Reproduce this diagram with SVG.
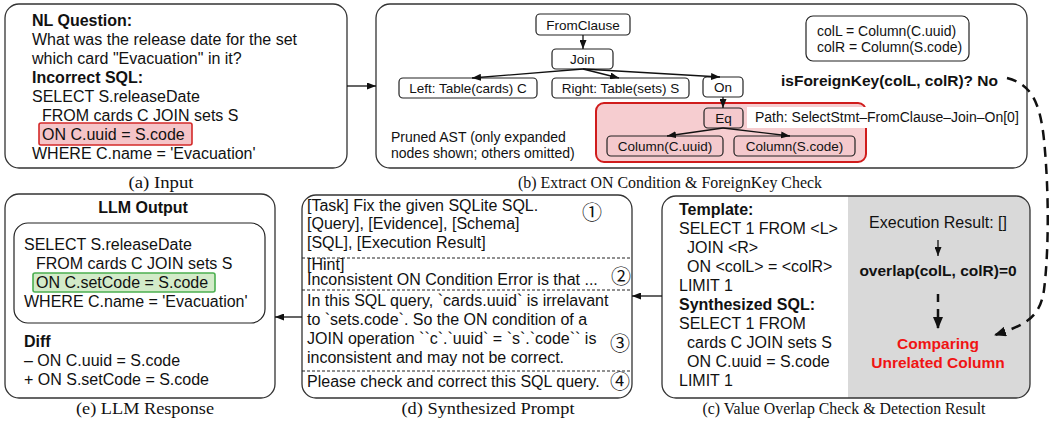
<svg xmlns="http://www.w3.org/2000/svg" width="1052" height="429" viewBox="0 0 1052 429">
<defs>
<style>
text{font-family:"Liberation Sans",Arial,Helvetica,sans-serif;fill:#111}
.t16{font-size:16px}
.t14{font-size:14px}
.t13{font-size:13.5px}
.b{font-weight:bold}
.cap{font-family:"Liberation Serif","Times New Roman",serif;font-size:17px}
.panel{fill:#fff;stroke:#333;stroke-width:1.3}
.node{fill:#fff;stroke:#222;stroke-width:1.2}
.pnode{fill:#f4c9cd;stroke:#222;stroke-width:1.2}
.line{fill:none;stroke:#111;stroke-width:1.3}
.sep{stroke:#222;stroke-width:1;stroke-dasharray:3,2}
.mid{text-anchor:middle}
.circ{font-family:"Noto Sans CJK JP","DejaVu Sans",sans-serif;font-size:20px}
</style>
<marker id="ah" markerUnits="userSpaceOnUse" markerWidth="9" markerHeight="7" refX="9" refY="3.5" orient="auto"><path d="M0,0 L9,3.5 L0,7 z" fill="#111"/></marker>
<marker id="ahb" markerUnits="userSpaceOnUse" markerWidth="12" markerHeight="10" refX="11" refY="5" orient="auto"><path d="M0,0 L12,5 L0,10 z" fill="#111"/></marker>
<clipPath id="cclip"><rect x="662" y="196" width="368" height="202" rx="14"/></clipPath>
</defs>
<rect width="1052" height="429" fill="#fff"/>

<g id="panel-a">
<rect class="panel" x="5" y="4" width="342" height="164" rx="14"/>
<rect x="39" y="123" width="153" height="22" rx="2" fill="#f5c4c8" stroke="#d42a2a" stroke-width="1.6"/>
<text class="t16 b" x="32" y="26">NL Question:</text>
<text class="t16" x="32" y="45">What was the release date for the set</text>
<text class="t16" x="32" y="64">which card "Evacuation" in it?</text>
<text class="t16 b" x="32" y="83">Incorrect SQL:</text>
<text class="t16" x="32" y="102">SELECT S.releaseDate</text>
<text class="t16" x="42" y="121">FROM cards C JOIN sets S</text>
<text class="t16" x="42" y="140">ON C.uuid = S.code</text>
<text class="t16" x="32" y="159">WHERE C.name = 'Evacuation'</text>
<text class="cap mid" x="161" y="188" textLength="65" lengthAdjust="spacingAndGlyphs">(a) Input</text>
</g>

<g id="panel-b">
<rect class="panel" x="376" y="4" width="651" height="164" rx="14"/>
<rect x="596" y="103" width="270" height="59" rx="8" fill="#f6cdd0" stroke="#d01c1c" stroke-width="2"/>
<rect x="747" y="107" width="275" height="21" fill="#fff"/>
<text class="t14" x="755" y="122">Path: SelectStmt–FromClause–Join–On[0]</text>
<text class="t14" x="391" y="142">Pruned AST (only expanded</text>
<text class="t14" x="391" y="158">nodes shown; others omitted)</text>
<g id="n-from"><rect class="node" x="536" y="14" width="94" height="21" rx="4"/><text class="t13 mid" x="583" y="29.5">FromClause</text></g>
<g id="n-join"><rect class="node" x="552" y="49" width="61" height="20" rx="4"/><text class="t13 mid" x="582.5" y="64">Join</text></g>
<g id="n-left"><rect class="node" x="399" y="78" width="138" height="20" rx="4"/><text class="t13 mid" x="468" y="93">Left: Table(cards) C</text></g>
<g id="n-right"><rect class="node" x="552" y="78" width="137" height="20" rx="4"/><text class="t13 mid" x="620.5" y="93">Right: Table(sets) S</text></g>
<g id="n-on"><rect class="node" x="703" y="77" width="40" height="20" rx="4"/><text class="t13 mid" x="723" y="92">On</text></g>
<g id="n-eq"><rect class="pnode" x="704" y="108" width="39" height="20" rx="4"/><text class="t13 mid" x="723.5" y="123">Eq</text></g>
<g id="n-colc"><rect class="pnode" x="607" y="136" width="116" height="20" rx="4"/><text class="t13 mid" x="665" y="151">Column(C.uuid)</text></g>
<g id="n-cols"><rect class="pnode" x="734" y="136" width="121" height="20" rx="4"/><text class="t13 mid" x="794.5" y="151">Column(S.code)</text></g>
<g id="n-cols-box"><rect class="node" x="806" y="16" width="163" height="45" rx="7"/>
<text class="t14" x="817" y="36">colL = Column(C.uuid)</text>
<text class="t14" x="817" y="52">colR = Column(S.code)</text></g>
<text x="781" y="86" style="font-size:15.5px;font-weight:bold">isForeignKey(colL, colR)? No</text>
<text class="cap mid" x="670" y="188" textLength="304" lengthAdjust="spacingAndGlyphs">(b) Extract ON Condition &amp; ForeignKey Check</text>
</g>

<g id="panel-e">
<rect class="panel" x="5" y="194" width="270" height="204" rx="14"/>
<text class="t16 b mid" x="143" y="213">LLM Output</text>
<rect class="node" x="14" y="223" width="251" height="100" rx="14"/>
<rect x="33" y="273" width="182" height="19" rx="2" fill="#d3ebc9" stroke="#4cb050" stroke-width="1.6"/>
<text class="t16" x="24" y="250">SELECT S.releaseDate</text>
<text class="t16" x="36" y="269">FROM cards C JOIN sets S</text>
<text class="t16" x="36" y="288">ON C.setCode = S.code</text>
<text class="t16" x="24" y="307">WHERE C.name = 'Evacuation'</text>
<text class="t16 b" x="24" y="347">Diff</text>
<text class="t16" x="24" y="366">– ON C.uuid = S.code</text>
<text class="t16" x="24" y="385">+ ON S.setCode = S.code</text>
<text class="cap mid" x="145" y="414" textLength="138" lengthAdjust="spacingAndGlyphs">(e) LLM Response</text>
</g>

<g id="panel-d">
<rect class="panel" x="302" y="195" width="330" height="203" rx="14"/>
<text class="t16" x="307" y="211">[Task] Fix the given SQLite SQL.</text>
<text class="t16" x="307" y="229">[Query], [Evidence], [Schema]</text>
<text class="t16" x="307" y="248">[SQL], [Execution Result]</text>
<line class="sep" x1="302" y1="258" x2="632" y2="258"/>
<text class="t16" x="307" y="270">[Hint]</text>
<text class="t16" x="307" y="285">Inconsistent ON Condition Error is that ...</text>
<line class="sep" x1="302" y1="290" x2="632" y2="290"/>
<text class="t16" x="307" y="306">In this SQL query, `cards.uuid` is irrelavant</text>
<text class="t16" x="307" y="325">to `sets.code`. So the ON condition of a</text>
<text class="t16" x="307" y="344">JOIN operation ``c`.`uuid` = `s`.`code`` is</text>
<text class="t16" x="307" y="363">inconsistent and may not be correct.</text>
<line class="sep" x1="302" y1="371" x2="632" y2="371"/>
<text class="t16" x="307" y="387">Please check and correct this SQL query.</text>
<text class="circ mid" x="592" y="220">①</text>
<text class="circ mid" x="621" y="284">②</text>
<text class="circ mid" x="620" y="351">③</text>
<text class="circ mid" x="620" y="389">④</text>
<text class="cap mid" x="488" y="414" textLength="173" lengthAdjust="spacingAndGlyphs">(d) Synthesized Prompt</text>
</g>

<g id="panel-c">
<rect x="848" y="196" width="182" height="202" fill="#d9d9d9" clip-path="url(#cclip)"/>
<rect x="662" y="196" width="368" height="202" rx="14" fill="none" stroke="#333" stroke-width="1.3"/>
<text class="t16 b" x="679" y="215">Template:</text>
<text class="t16" x="679" y="234">SELECT 1 FROM &lt;L&gt;</text>
<text class="t16" x="687" y="253">JOIN &lt;R&gt;</text>
<text class="t16" x="687" y="272">ON &lt;colL&gt; = &lt;colR&gt;</text>
<text class="t16" x="679" y="291">LIMIT 1</text>
<text class="t16 b" x="679" y="310">Synthesized SQL:</text>
<text class="t16" x="679" y="329">SELECT 1 FROM</text>
<text class="t16" x="687" y="348">cards C JOIN sets S</text>
<text class="t16" x="687" y="367">ON C.uuid = S.code</text>
<text class="t16" x="679" y="386">LIMIT 1</text>
<text class="t16 mid" x="938" y="228">Execution Result: []</text>
<text class="mid" x="938" y="276" style="font-size:15.5px;font-weight:bold">overlap(colL, colR)=0</text>
<text class="mid" x="938" y="349" style="font-size:15.5px;font-weight:bold;fill:#f01414">Comparing</text>
<text class="mid" x="938" y="368" style="font-size:15.5px;font-weight:bold;fill:#f01414">Unrelated Column</text>
<text class="cap mid" x="844" y="414" textLength="283" lengthAdjust="spacingAndGlyphs">(c) Value Overlap Check &amp; Detection Result</text>
</g>

<g id="connectors">
<line class="line" x1="347" y1="86" x2="376" y2="86" marker-end="url(#ah)"/>
<line class="line" x1="583" y1="35" x2="583" y2="49" marker-end="url(#ah)"/>
<line class="line" x1="583" y1="69" x2="472" y2="78" marker-end="url(#ah)"/>
<line class="line" x1="583" y1="69" x2="619" y2="78" marker-end="url(#ah)"/>
<line class="line" x1="583" y1="69" x2="720" y2="77" marker-end="url(#ah)"/>
<line class="line" x1="723" y1="97" x2="723" y2="108" marker-end="url(#ah)"/>
<line class="line" x1="723" y1="128" x2="667" y2="136" marker-end="url(#ah)"/>
<line class="line" x1="723" y1="128" x2="790" y2="136" marker-end="url(#ah)"/>
<path d="M1007,78 C1030,84 1040,100 1044,140 C1049,190 1049,250 1044,290 C1040,318 1025,325 995,335" fill="none" stroke="#111" stroke-width="2.5" stroke-dasharray="10,7" marker-end="url(#ahb)"/>
<line class="line" x1="662" y1="296" x2="632" y2="296" marker-end="url(#ah)"/>
<line class="line" x1="302" y1="317" x2="275" y2="317" marker-end="url(#ah)"/>
<line class="line" x1="938" y1="240" x2="938" y2="256" stroke-width="1.6" marker-end="url(#ah)"/>
<line x1="938" y1="294" x2="938" y2="328" stroke="#111" stroke-width="2.5" stroke-dasharray="8,7" marker-end="url(#ahb)"/>
</g>
</svg>
